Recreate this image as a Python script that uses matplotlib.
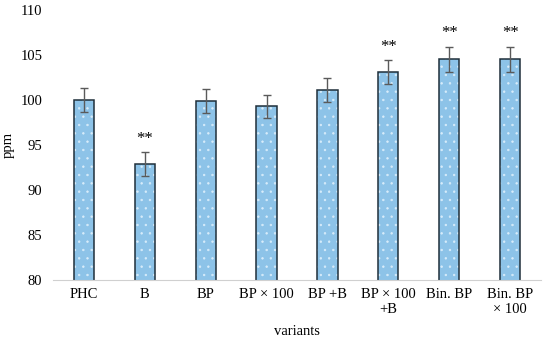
import matplotlib.pyplot as plt
import numpy as np

plt.rcParams['font.family'] = ['Liberation Serif', 'DejaVu Serif']
plt.rcParams['hatch.linewidth'] = 0.5

categories = ["PHC", "B", "BP", "BP \u00d7 100", "BP +B", "BP \u00d7 100\n+B", "Bin. BP", "Bin. BP\n\u00d7 100"]
values = [100.0, 92.9, 99.9, 99.3, 101.1, 103.1, 104.5, 104.5]
errors = [1.3, 1.3, 1.3, 1.3, 1.3, 1.3, 1.4, 1.4]
marks = ["", "**", "", "", "", "**", "**", "**"]

fig = plt.figure(figsize=(5.5, 3.43), dpi=100)
ax = fig.add_axes([0.097, 0.184, 0.886, 0.787])

x = np.arange(len(categories))
ax.bar(x, values, width=0.33, color="#8dc3e8", edgecolor="#d8ecfa",
       hatch="..", linewidth=0)
ax.bar(x, values, width=0.33, fill=False, edgecolor="#1f2f3a", linewidth=1.1)
ax.errorbar(x, values, yerr=errors, fmt="none", ecolor="#5a5a5a", elinewidth=1.0,
            capsize=3, capthick=1.0)
for i, m in enumerate(marks):
    if m:
        ax.text(x[i], values[i] + errors[i] + 0.6, m, ha="center", va="bottom",
                fontsize=12)

ax.set_ylim(80, 110)
ax.set_xlim(-0.5, len(categories) - 0.5)
ax.set_yticks(np.arange(80, 111, 5))
ax.set_xticks(x)
ax.set_xticklabels(categories, fontsize=10.5, linespacing=1.15)
ax.tick_params(axis="y", labelsize=10.5, length=0, pad=8)
ax.tick_params(axis="x", length=0, pad=6)
for s in ["top", "right", "left"]:
    ax.spines[s].set_visible(False)
ax.spines["bottom"].set_color("#d0d0d0")
ax.set_ylabel("ppm", fontsize=10.5, labelpad=4)
ax.set_xlabel("variants", fontsize=10.5, labelpad=7)

fig.savefig("out.png", dpi=100)
